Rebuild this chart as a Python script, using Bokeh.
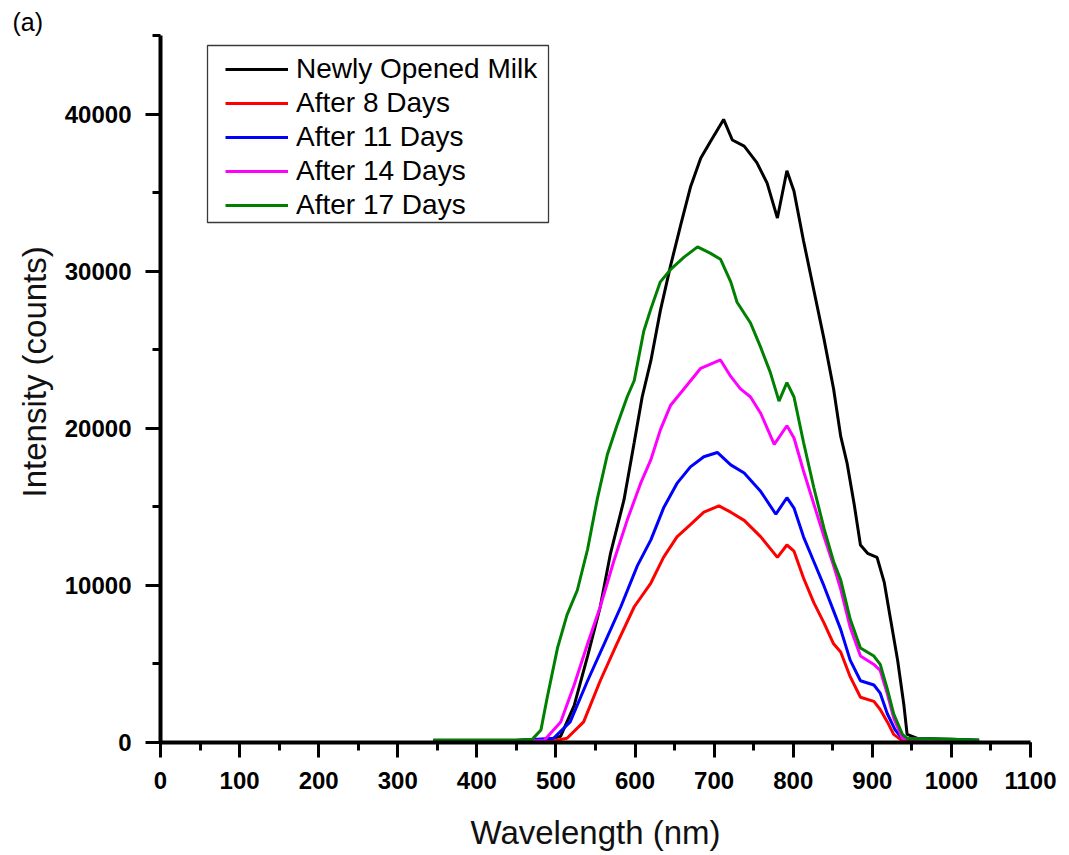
from bokeh.plotting import figure
from bokeh.models import (Range1d, SingleIntervalTicker, Legend, LegendItem,
                          BoxAnnotation, BasicTickFormatter, Title)
from bokeh.embed import file_html
from bokeh.resources import INLINE

# ---- data ----
fresh_wl = [345, 400, 450, 490, 506, 523, 540, 556, 569, 586, 599, 609, 620, 632,
            645, 658, 670, 683, 695, 712, 723, 738, 754, 767, 780, 792, 801, 813,
            826, 839, 851, 860, 868, 877, 885, 894, 906, 915, 923, 932, 940, 944,
            957, 1000, 1035]
fresh_int = [150, 150, 150, 180, 400, 2350, 5500, 8640, 12040, 15440, 19110, 21990,
             24300, 27490, 30370, 32990, 35340, 37180, 38220, 39660, 38350, 37960,
             36910, 35600, 33380, 36390, 35080, 31940, 28800, 25660, 22520, 19500,
             17800, 15180, 12570, 12040, 11780, 10210, 7860, 5240, 2350, 520, 260,
             200, 150]

d8_wl = [345, 400, 450, 500, 514, 535, 556, 577, 599, 620, 636, 653, 670, 687, 706,
         721, 738, 759, 780, 792, 801, 813, 826, 839, 851, 860, 872, 885, 902, 910,
         919, 927, 938, 1000, 1035]
d8_int = [100, 100, 100, 130, 270, 1310, 3930, 6280, 8640, 10150, 11780, 13090,
          13870, 14660, 15060, 14660, 14140, 13090, 11780, 12570, 12180, 10470, 8900,
          7600, 6280, 5760, 4190, 2880, 2620, 2100, 1310, 520, 100, 100, 100]

d11_wl = [345, 400, 450, 497, 518, 540, 561, 582, 603, 620, 636, 653, 670, 687, 704,
          721, 738, 759, 778, 792, 801, 813, 826, 839, 851, 860, 872, 885, 902, 910,
          919, 929, 938, 1000, 1035]
d11_int = [120, 120, 120, 270, 1310, 3930, 6280, 8640, 11260, 12900, 14920, 16490,
           17540, 18190, 18460, 17670, 17150, 15970, 14530, 15580, 14920, 13090,
           11520, 9950, 8380, 7200, 5240, 3930, 3660, 3140, 1830, 790, 260, 180, 150]

d14_wl = [345, 400, 450, 485, 506, 523, 540, 556, 573, 590, 607, 620, 632, 645, 662,
          683, 708, 721, 733, 746, 759, 776, 792, 801, 813, 826, 839, 851, 860, 872,
          885, 902, 910, 919, 927, 938, 1000, 1035]
d14_int = [100, 100, 100, 130, 1310, 3660, 6280, 8640, 11520, 14140, 16490, 18000,
           19900, 21470, 22520, 23820, 24350, 23300, 22520, 21990, 20940, 18980,
           20160, 19380, 17280, 15180, 13090, 11260, 9760, 7330, 5500, 4970, 4580,
           3100, 1570, 260, 150, 100]

d17_wl = [345, 400, 450, 470, 481, 489, 502, 514, 527, 540, 552, 565, 577, 590, 599,
          611, 620, 632, 645, 662, 679, 695, 708, 721, 729, 746, 759, 771, 782, 792,
          801, 813, 826, 839, 851, 860, 872, 885, 902, 910, 919, 927, 938, 944, 1000,
          1035]
d17_int = [150, 150, 150, 200, 790, 2880, 6020, 8120, 9690, 12300, 15440, 18330,
           20160, 21990, 23040, 26180, 27600, 29320, 30110, 30890, 31550, 31150,
           30760, 29320, 28020, 26700, 25130, 23560, 21730, 22910, 21990, 19110,
           16230, 13610, 11520, 10350, 7860, 6020, 5500, 4970, 3400, 1830, 520, 260,
           200, 150]

series_names = ["Newly Opened Milk", "After 8 Days", "After 11 Days",
                "After 14 Days", "After 17 Days"]
series_colors = ["#000000", "#ff0000", "#0000ff", "#ff00ff", "#008000"]
series_x = [fresh_wl, d8_wl, d11_wl, d14_wl, d17_wl]
series_y = [fresh_int, d8_int, d11_int, d14_int, d17_int]

x_ticks_interval = 100
y_ticks_interval = 10000

# ---- figure ----
p = figure(width=1069, height=855, output_backend="svg", toolbar_location=None,
           x_range=Range1d(0, 1100), y_range=Range1d(0, 45000),
           min_border_left=160, min_border_right=39, min_border_top=35,
           min_border_bottom=113)
p.outline_line_color = None
p.grid.visible = False
p.background_fill_color = "white"

p.title.text = "(a)"
p.title.align = "left"
p.title.offset = -148
p.title.standoff = 0
p.title.text_font = "Liberation Sans"
p.title.text_font_style = "normal"
p.title.text_font_size = "25px"
p.title.text_color = "black"

ylab = Title(text="Intensity (counts)", align="left", offset=245, standoff=18,
             text_font="Liberation Sans", text_font_style="normal",
             text_font_size="33px", text_color="#111111")
p.add_layout(ylab, "left")

p.xaxis.ticker = SingleIntervalTicker(interval=x_ticks_interval, num_minor_ticks=2)
p.yaxis.ticker = SingleIntervalTicker(interval=y_ticks_interval, num_minor_ticks=2)
p.yaxis.formatter = BasicTickFormatter(use_scientific=False)

for ax in (p.xaxis[0], p.yaxis[0]):
    ax.axis_line_width = 4
    ax.axis_line_color = "black"
    ax.major_tick_line_width = 3
    ax.minor_tick_line_width = 3
    ax.major_tick_in = 0
    ax.major_tick_out = 15
    ax.minor_tick_in = 0
    ax.minor_tick_out = 8
    ax.major_label_text_font = "Liberation Sans"
    ax.major_label_text_font_style = "bold"
    ax.major_label_text_font_size = "24px"
    ax.major_label_text_color = "black"
    ax.axis_label_text_font = "Liberation Sans"
    ax.axis_label_text_font_style = "normal"
    ax.axis_label_text_color = "#111111"

p.xaxis.axis_label = "Wavelength (nm)"
p.xaxis.axis_label_text_font_size = "33px"
p.xaxis.major_label_standoff = 14
p.yaxis.major_label_standoff = 14
p.xaxis.axis_label_standoff = 22

renderers = []
for xs, ys, c in zip(series_x, series_y, series_colors):
    r = p.line(xs, ys, line_color=c, line_width=3)
    renderers.append(r)

items = [LegendItem(label=n, renderers=[r]) for n, r in zip(series_names, renderers)]
legend = Legend(items=items, location=(60, 516), padding=5, spacing=2,
                glyph_width=63, glyph_height=32, label_height=32, label_standoff=8,
                label_text_font="Liberation Sans", label_text_font_size="28px",
                label_text_color="black",
                border_line_alpha=0, background_fill_alpha=0)
p.add_layout(legend)

box = BoxAnnotation(left=47, right=388, top=697, bottom=520,
                    left_units="screen", right_units="screen",
                    top_units="screen", bottom_units="screen",
                    fill_alpha=0, line_color="#3a3a3a", line_width=1.3,
                    line_alpha=1)
p.add_layout(box)

open("out.html", "w").write(file_html(p, INLINE))
